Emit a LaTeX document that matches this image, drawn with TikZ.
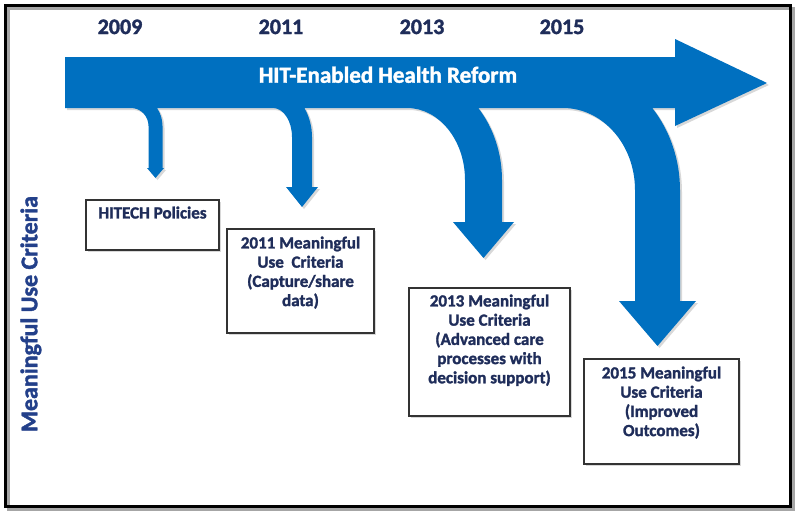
\documentclass[tikz,border=0pt]{standalone}
\usepackage{fontspec}
\setmainfont{Carlito}[BoldFeatures={FakeBold=1.6}]
\usetikzlibrary{positioning,shadows}
\definecolor{hitblue}{HTML}{0070C0}
\definecolor{yearnavy}{HTML}{1F2D5A}
\definecolor{axisblue}{HTML}{23408A}
\definecolor{boxline}{HTML}{333333}
\begin{document}
\begin{tikzpicture}[x=1pt,y=-1pt,
  yearlabel/.style={anchor=base,text=yearnavy,font=\fontsize{22}{24}\selectfont\bfseries},
  crit/.style={draw=boxline,line width=1.3pt,fill=white,inner sep=0pt,
    drop shadow={shadow xshift=2pt,shadow yshift=-2pt,opacity=.3}},
  crittext/.style={inner sep=0pt,align=center,text=yearnavy,font=\fontsize{17}{19.2}\selectfont\bfseries}]
\path[fill=white,use as bounding box] (0,0) rectangle (800,517);
% frame
\draw[black!35,line width=3pt] (8.5,8.5) rectangle (793.5,509.5);
\draw[line width=3.3pt] (5.2,5.3) rectangle (790.8,506.7);
% years
\node[yearlabel] (y2009) at (120,34) {2009};
\node[yearlabel] (y2011) at (281,34) {2011};
\node[yearlabel] (y2013) at (422,34) {2013};
\node[yearlabel] (y2015) at (562,34) {2015};
% the big arrow with its four branches
\fill[hitblue,drop shadow={shadow xshift=2pt,shadow yshift=-2pt,opacity=.3}]
  (65,57) -- (675,57) -- (675,39) -- (767,83) -- (675,126) -- (675,108)
  -- (652.3,108) .. controls (670.2,130.9) and (680,160) .. (680,190) -- (680,301) -- (696,301)
  -- (657.5,346) -- (619,301) -- (635,301) -- (635,190) .. controls (635,144.7) and (602.8,108) .. (563,108)
  -- (478.3,108) .. controls (493.6,127.9) and (502,153.5) .. (502,180) -- (502,222) -- (514,222)
  -- (483.5,258) -- (453,222) -- (465,222) -- (465,180) .. controls (465,140.2) and (439,108) .. (407,108)
  -- (304.4,108) .. controls (309.3,116.4) and (312,126.6) .. (312,137) -- (312,187) -- (318,187)
  -- (302,207) -- (286,187) -- (292,187) -- (292,137) .. controls (292,121) and (283.5,108) .. (273,108)
  -- (157,108) .. controls (160.6,113.3) and (162.5,119.6) .. (162.5,126) -- (162.5,168) -- (164,168)
  -- (155.5,178) -- (147,168) -- (148.5,168) -- (148.5,126) .. controls (148.5,116.1) and (140.7,108) .. (131,108)
  -- (65,108) -- cycle;
\node[anchor=base,text=white,font=\fontsize{23}{25}\selectfont\bfseries] (title) at (388,82.7) {HIT-Enabled Health Reform};
% side label
\node[rotate=90,anchor=base,text=axisblue,font=\fontsize{24}{26}\selectfont\bfseries] (axis) at (37.3,314) {Meaningful Use Criteria};
% criteria boxes
\node[crit,minimum width=133pt,minimum height=50pt] (b2009) at (152.5,225) {};
\node[crittext,below=7pt of b2009.north] (t2009) {HITECH Policies};
\node[crit,minimum width=147pt,minimum height=104pt] (b2011) at (300.5,281) {};
\node[crittext,below=8pt of b2011.north] (t2011) {2011 Meaningful\\Use\ \ Criteria\\(Capture/share\\data)};
\node[crit,minimum width=161pt,minimum height=128pt] (b2013) at (489.5,352) {};
\node[crittext,below=7pt of b2013.north] (t2013) {2013 Meaningful\\Use Criteria\\(Advanced care\\processes with\\decision support)};
\node[crit,minimum width=155pt,minimum height=105pt] (b2015) at (661.5,411.5) {};
\node[crittext,below=8pt of b2015.north] (t2015) {2015 Meaningful\\Use Criteria\\(Improved\\Outcomes)};
\end{tikzpicture}
\end{document}
